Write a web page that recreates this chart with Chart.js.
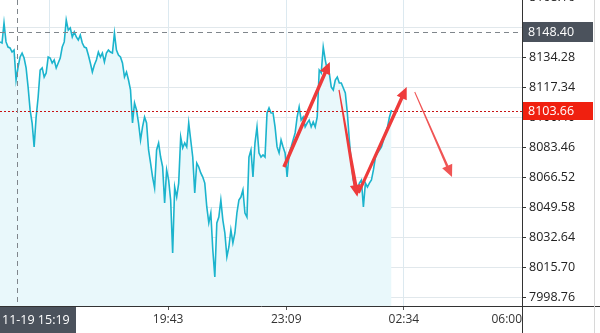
<!DOCTYPE html>
<html>
<head>
<meta charset="utf-8">
<script src="https://cdn.jsdelivr.net/npm/chart.js@4/dist/chart.umd.min.js"></script>
<style>
  html, body { margin: 0; padding: 0; background: #fff; }
  canvas { display: block; }
</style>
</head>
<body>
<canvas id="chart" width="600" height="333"></canvas>
<script>
// price series, one value every 3.5 minutes starting 14:50 (minutes since 00:00 of 11-19)
const startMinute = 890;
const stepMinutes = 3.5;
const prices = [
  8142.8, 8142.2, 8153.5, 8142.8, 8139.9, 8139.4, 8137.1, 8138.2, 8121.3, 8128.6,
  8134.3, 8136.5, 8133.7, 8128.1, 8117.3, 8104.4, 8097.0, 8083.5, 8100.4, 8111.7,
  8126.9, 8128.1, 8123.0, 8125.3, 8134.3, 8133.7, 8130.9, 8132.6, 8128.1, 8130.9,
  8133.7, 8139.9, 8142.8, 8155.2, 8149.5, 8150.7, 8145.6, 8148.4, 8145.6, 8143.9,
  8146.7, 8142.2, 8139.9, 8139.4, 8135.4, 8130.9, 8125.8, 8129.8, 8132.6, 8137.1,
  8134.3, 8136.5, 8131.5, 8136.5, 8138.2, 8137.1, 8136.5, 8147.8, 8138.2, 8135.4,
  8134.3, 8130.9, 8123.0, 8125.8, 8121.3, 8115.7, 8097.0, 8108.3,
  8104.4, 8097.0, 8087.4, 8094.8, 8100.4, 8097.0, 8081.8, 8074.4, 8066.5, 8060.3,
  8081.8, 8085.7, 8077.8, 8072.2, 8051.8, 8070.5, 8064.8, 8053.5, 8023.6, 8060.9,
  8055.2, 8063.1, 8089.1, 8082.9, 8085.7, 8083.5, 8097.0, 8087.4, 8077.8, 8057.5,
  8074.4, 8072.2, 8068.8, 8066.5, 8063.1, 8049.6, 8040.6, 8046.2, 8025.3, 8010.1,
  8040.6, 8043.9, 8053.5, 8042.2, 8034.9, 8021.4, 8027.0, 8036.6, 8029.3, 8034.9,
  8046.2, 8053.5, 8055.2, 8059.2, 8046.2, 8043.9, 8077.8, 8081.8, 8066.5, 8085.7,
  8094.8, 8080.1, 8077.8, 8079.0, 8077.8, 8102.7, 8105.5, 8102.7,
  8102.7, 8094.8, 8083.5, 8080.1, 8087.4, 8083.5, 8080.1, 8066.5, 8080.1, 8083.5,
  8087.4, 8091.4, 8100.4, 8106.1, 8098.7, 8100.4, 8094.8, 8097.0, 8098.7, 8094.8,
  8097.6, 8094.8, 8100.4, 8126.9, 8125.3, 8139.9, 8132.6, 8126.9, 8125.3, 8117.3,
  8115.7, 8121.3, 8123.0, 8119.6, 8119.6, 8116.8, 8114.0, 8102.7, 8087.4, 8074.4,
  8064.8, 8060.9, 8059.2, 8063.1, 8064.8, 8049.6, 8063.1, 8060.9, 8063.1, 8064.8,
  8070.5, 8077.8, 8080.1, 8081.8, 8083.5, 8087.4, 8091.4, 8094.8, 8100.4, 8104.4
];

// axis ticks (16:17 sits under the crosshair time label)
const xTickValues = [977, 1183, 1389, 1594, 1800];
const xTickLabels = ['', '19:43', '23:09', '02:34', '06:00'];
const yTickValues = [7998.76, 8015.70, 8032.64, 8049.58, 8066.52, 8083.46, 8100.40, 8117.34, 8134.28, 8151.22, 8168.16];

// crosshair + last price
const crossTime = 919;          // 15:19
const crossTimeLabel = '11-19 15:19';
const crossPrice = 8148.40;
const lastPrice = 8103.66;

// hand drawn arrows [time0, price0, time1, price1, width0, width1, colour]
const arrows = [
  [1385, 8072.2, 1465, 8131.5, 3.5, 3.5, '#ee3b3b'],
  [1481, 8115.7, 1513, 8055.3, 1.2, 4, '#ee3b3b'],
  [1515, 8057.5, 1599, 8117.3, 3, 3.5, '#ee3b3b'],
  [1613, 8114.5, 1678, 8066.5, 1, 2.5, '#f05555']
];

const points = prices.map((p, i) => ({ x: startMinute + i * stepMinutes, y: p }));

function drawArrow(ctx, x0, y0, x1, y1, w0, w1, color) {
  const ang = Math.atan2(y1 - y0, x1 - x0);
  const len = Math.hypot(x1 - x0, y1 - y0);
  const headLen = 12, headHalf = 5.5;
  const c = Math.cos(ang), s = Math.sin(ang);
  const nx = -s, ny = c;
  const bx = x0 + c * (len - headLen), by = y0 + s * (len - headLen);
  ctx.save();
  ctx.fillStyle = color;
  ctx.beginPath();
  ctx.moveTo(x0 + nx * w0 / 2, y0 + ny * w0 / 2);
  ctx.lineTo(bx + nx * w1 / 2, by + ny * w1 / 2);
  ctx.lineTo(bx + nx * headHalf, by + ny * headHalf);
  ctx.lineTo(x1, y1);
  ctx.lineTo(bx - nx * headHalf, by - ny * headHalf);
  ctx.lineTo(bx - nx * w1 / 2, by - ny * w1 / 2);
  ctx.lineTo(x0 - nx * w0 / 2, y0 - ny * w0 / 2);
  ctx.closePath();
  ctx.fill();
  ctx.restore();
}

function priceBox(ctx, y, text, bg, h) {
  ctx.fillStyle = bg;
  ctx.fillRect(523, Math.round(y) - h / 2, 70, h);
  ctx.fillStyle = '#fff';
  ctx.font = '12.5px "Open Sans"';
  ctx.textAlign = 'left';
  ctx.textBaseline = 'middle';
  ctx.fillText(text, 528, Math.round(y) + 0.5);
}

const overlay = {
  id: 'overlay',
  afterDatasetsDraw(chart) {
    const { ctx, chartArea, scales } = chart;
    const xs = scales.x, ys = scales.y;
    ctx.save();
    // last price dotted line
    const yl = Math.round(ys.getPixelForValue(lastPrice)) + 0.5;
    ctx.strokeStyle = '#c81414';
    ctx.lineWidth = 1;
    ctx.setLineDash([2, 2]);
    ctx.beginPath();
    ctx.moveTo(chartArea.left, yl);
    ctx.lineTo(chartArea.right, yl);
    ctx.stroke();
    // crosshair
    const xc = Math.round(xs.getPixelForValue(crossTime)) + 0.5;
    const yc = Math.round(ys.getPixelForValue(crossPrice)) + 0.5;
    ctx.strokeStyle = '#80868c';
    ctx.setLineDash([5, 4]);
    ctx.beginPath();
    ctx.moveTo(chartArea.left, yc);
    ctx.lineTo(chartArea.right, yc);
    ctx.moveTo(xc, chartArea.top);
    ctx.lineTo(xc, chartArea.bottom);
    ctx.stroke();
    ctx.setLineDash([]);
    // arrows
    arrows.forEach(a => {
      drawArrow(ctx, xs.getPixelForValue(a[0]), ys.getPixelForValue(a[1]),
        xs.getPixelForValue(a[2]), ys.getPixelForValue(a[3]), a[4], a[5], a[6]);
    });
    ctx.restore();
  },
  afterDraw(chart) {
    const { ctx, chartArea, scales } = chart;
    const ys = scales.y;
    ctx.save();
    // y axis panel covers the end of the time axis
    ctx.fillStyle = '#fff';
    ctx.fillRect(chartArea.right + 1, chartArea.bottom + 1, 600, 40);
    ctx.strokeStyle = '#333';
    ctx.lineWidth = 1;
    ctx.beginPath();
    ctx.moveTo(chartArea.right, chartArea.bottom + 0.5);
    ctx.lineTo(600, chartArea.bottom + 0.5);
    ctx.moveTo(chartArea.right + 0.5, chartArea.top);
    ctx.lineTo(chartArea.right + 0.5, 333);
    ctx.stroke();
    ctx.strokeStyle = '#d8d8d8';
    ctx.beginPath();
    ctx.moveTo(594.5, 0);
    ctx.lineTo(594.5, 333);
    ctx.stroke();
    // price labels
    priceBox(ctx, ys.getPixelForValue(crossPrice), crossPrice.toFixed(2), '#4b525c', 20);
    priceBox(ctx, ys.getPixelForValue(lastPrice), lastPrice.toFixed(2), '#f0200f', 18);
    // time label of crosshair
    ctx.fillStyle = '#4b525c';
    ctx.fillRect(0, chartArea.bottom + 1, 76, 333 - chartArea.bottom);
    ctx.fillStyle = '#fff';
    ctx.font = '12.5px "Open Sans"';
    ctx.textAlign = 'left';
    ctx.textBaseline = 'middle';
    ctx.fillText(crossTimeLabel, 2, chartArea.bottom + 14);
    ctx.restore();
  }
};

new Chart(document.getElementById('chart'), {
  type: 'line',
  data: {
    datasets: [{
      data: points,
      borderColor: '#1cb4cd',
      borderWidth: 1.6,
      backgroundColor: '#e9f8fb',
      fill: 'start',
      pointRadius: 0,
      tension: 0
    }]
  },
  options: {
    responsive: false,
    animation: false,
    devicePixelRatio: 1,
    layout: { padding: 0 },
    plugins: { legend: { display: false }, tooltip: { enabled: false } },
    scales: {
      x: {
        type: 'linear',
        min: 890,
        max: 1800,
        afterBuildTicks: scale => { scale.ticks = xTickValues.map(v => ({ value: v })); },
        afterFit: scale => { scale.height = 27; scale.paddingLeft = 0; scale.paddingRight = 0; },
        ticks: {
          autoSkip: false,
          maxRotation: 0,
          align: 'inner',
          padding: 2,
          color: '#333',
          font: { family: 'Open Sans', size: 12 },
          callback: value => xTickLabels[xTickValues.indexOf(value)]
        },
        grid: { color: '#dce9f0', tickColor: '#555', tickLength: 4 },
        border: { color: '#333' }
      },
      y: {
        position: 'right',
        min: 7993.68,
        max: 8166.47,
        afterBuildTicks: scale => { scale.ticks = yTickValues.map(v => ({ value: v })); },
        afterFit: scale => { scale.width = 78; scale.paddingTop = 0; scale.paddingBottom = 0; },
        ticks: {
          autoSkip: false,
          padding: 3,
          color: '#222',
          font: { family: 'Open Sans', size: 12.5 },
          callback: value => value.toFixed(2)
        },
        grid: { color: '#e1e8ec', tickColor: '#333', tickLength: 4 },
        border: { color: '#333' }
      }
    }
  },
  plugins: [overlay]
});
</script>
</body>
</html>
